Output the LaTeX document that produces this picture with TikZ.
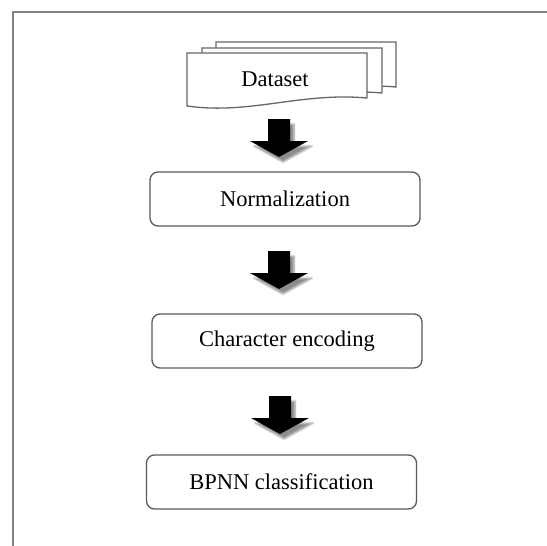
\documentclass[tikz,border=0pt]{standalone}
\usepackage{fontspec}
\setmainfont{Liberation Serif}
\usetikzlibrary{shadows.blur}

\begin{document}
\begin{tikzpicture}[
    x=1pt, y=-1pt,
    font=\fontsize{22.5}{27}\selectfont,
    frame/.style={draw=black!50, line width=2pt},
    page/.style={draw=black!60, line width=1.3pt, fill=white},
    stage/.style={draw=black!65, line width=1.3pt, rounded corners=8pt,
      minimum width=270pt, minimum height=54pt, inner sep=0pt},
    bigarrow/.style={fill=black, blur shadow={shadow xshift=4pt,
      shadow yshift=-5pt, shadow blur steps=6, shadow opacity=45}}
  ]
  \useasboundingbox (0,0) rectangle (547,546);
  \draw[frame] (13,546) -- (13,12) -- (547,12);
  % stack of pages
  \foreach \dx/\dy in {29/-11, 15/-5, 0/0}
    \draw[page, shift={(\dx,\dy)}] (187,53) -- (367,53) -- (367,98)
      .. controls (300,92) and (250,115) .. (187,106) -- cycle;
  \node[anchor=base] (data) at (275,86) {Dataset};
  % stages
  \node[stage] (norm) at (285,199) {Normalization};
  \node[stage] (enc) at (287,341) {Character encoding};
  \node[stage] (bpnn) at (281.5,482) {BPNN classification};
  % block arrows
  \coordinate (a1) at (279,119);
  \coordinate (a2) at (279,251);
  \coordinate (a3) at (280,396);
  \foreach \a in {a1,a2,a3}
    \fill[bigarrow] (\a) ++(-11,0) -- ++(22,0) -- ++(0,22) -- ++(18,0)
      -- ++(-29,16) -- ++(-29,-16) -- ++(18,0) -- cycle;
\end{tikzpicture}
\end{document}
